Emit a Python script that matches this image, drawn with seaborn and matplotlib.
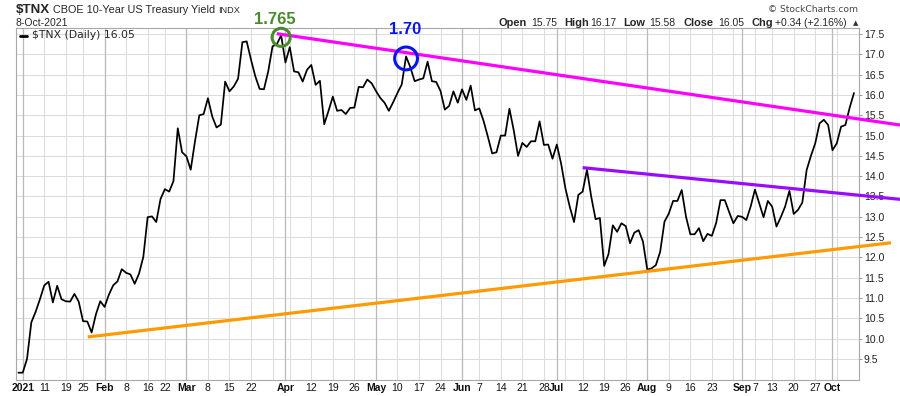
import numpy as np
import pandas as pd
import matplotlib
matplotlib.use("Agg")
import matplotlib.pyplot as plt
from matplotlib.lines import Line2D
import seaborn as sns

# ---------------- data ----------------
first_date = "2020-12-31"
start_date = "2021-01-04"
end_date = "2021-10-08"
holidays = ["2021-01-18", "2021-02-15", "2021-04-02", "2021-05-31",
            "2021-07-05", "2021-09-06"]

# $TNX daily close (yield x10), 31-Dec-2020 .. 8-Oct-2021
tnx_close = [
    9.16,
    9.16, 9.50, 10.40, 10.66, 10.97, 11.31, 11.40, 10.89, 11.30, 10.97,
    10.92, 10.91, 11.10, 10.91, 10.43, 10.42, 10.15, 10.60, 10.92, 10.78,
    11.08, 11.31, 11.41, 11.71, 11.62, 11.58, 11.35, 11.60, 12.01, 12.99,
    13.01, 12.87, 13.44, 13.68, 13.62, 13.88, 15.18, 14.59, 14.49, 14.16,
    14.86, 15.50, 15.53, 15.92, 15.47, 15.20, 15.27, 16.33, 16.09, 16.21,
    16.40, 17.30, 17.32, 16.87, 16.46, 16.15, 16.14, 16.58, 17.20, 17.25,
    17.47, 16.80, 17.18, 16.58, 16.56, 16.33, 16.62, 16.74, 16.25, 16.35,
    15.28, 15.61, 15.96, 15.61, 15.63, 15.53, 15.68, 15.69, 16.20, 16.19,
    16.38, 16.29, 16.10, 15.93, 15.81, 15.61, 15.82, 16.05, 16.26, 16.95,
    16.68, 16.34, 16.38, 16.41, 16.82, 16.34, 16.32, 16.10, 15.64, 15.73,
    16.09, 15.81, 16.14, 15.88, 16.23, 15.62, 15.67, 15.36, 14.97, 14.56,
    14.59, 15.00, 15.00, 15.66, 15.13, 14.50, 14.82, 14.72, 14.86, 14.86,
    15.35, 14.77, 14.78, 14.43, 14.78, 14.31, 13.70, 13.25, 12.87, 13.54,
    13.62, 14.16, 13.49, 12.94, 12.97, 11.79, 12.08, 12.79, 12.63, 12.84,
    12.77, 12.35, 12.61, 12.67, 12.39, 11.70, 11.73, 11.81, 12.14, 12.88,
    13.08, 13.39, 13.39, 13.66, 13.00, 12.57, 12.57, 12.72, 12.40, 12.58,
    12.53, 12.85, 13.41, 13.41, 13.12, 12.84, 13.02, 13.00, 12.92, 13.25,
    13.67, 13.33, 12.99, 13.39, 13.25, 12.76, 12.99, 13.25, 13.64, 13.07,
    13.17, 13.35, 14.15, 14.50, 14.81, 15.30, 15.39, 15.26, 14.64, 14.81,
    15.22, 15.26, 15.69, 16.05,
]

label_dates = ["2021-01-04", "2021-01-11", "2021-01-19", "2021-01-25",
               "2021-02-01", "2021-02-08", "2021-02-16", "2021-02-22",
               "2021-03-01", "2021-03-08", "2021-03-15", "2021-03-22",
               "2021-04-01", "2021-04-12", "2021-04-19", "2021-04-26",
               "2021-05-03", "2021-05-10", "2021-05-17", "2021-05-24",
               "2021-06-01", "2021-06-07", "2021-06-14", "2021-06-21",
               "2021-06-28", "2021-07-01", "2021-07-12", "2021-07-19",
               "2021-07-26", "2021-08-02", "2021-08-09", "2021-08-16",
               "2021-08-23", "2021-09-01", "2021-09-07", "2021-09-13",
               "2021-09-20", "2021-09-27", "2021-10-01"]
label_texts = ["2021", "11", "19", "25", "Feb", "8", "16", "22", "Mar", "8",
               "15", "22", "Apr", "12", "19", "26", "May", "10", "17", "24",
               "Jun", "7", "14", "21", "28", "Jul", "12", "19", "26", "Aug",
               "9", "16", "23", "Sep", "7", "13", "20", "27", "Oct"]
y_ticks = [9.5, 10.0, 10.5, 11.0, 11.5, 12.0, 12.5, 13.0, 13.5, 14.0, 14.5,
           15.0, 15.5, 16.0, 16.5, 17.0, 17.5]

# trend lines (x in trading-day index, 0 = 31-Dec-2020; y in yield x10)
resistance_x = [60.0, 204.7]
resistance_y = [17.51, 15.26]
channel_x = [131.0, 204.7]
channel_y = [14.21, 13.43]
support_x = [16.1, 202.6]
support_y = [10.04, 12.36]

peak_dates = ["2021-03-31", "2021-05-12"]
peak_texts = ["1.765", "1.70"]
peak_colors = ["#4a8a2c", "#0a14f0"]

quote_open, quote_high, quote_low, quote_close = 15.75, 16.17, 15.58, 16.05
quote_chg, quote_pct = 0.34, 2.16

# ---------------- calendar ----------------
bd = pd.bdate_range(start_date, end_date)
bd = bd[~bd.isin(pd.to_datetime(holidays))]
dates = pd.DatetimeIndex([pd.Timestamp(first_date)]).append(bd)
n = min(len(dates), len(tnx_close))
dates = dates[:n]
pos = np.arange(n)
df = pd.DataFrame({"pos": pos, "close": tnx_close[:n], "date": dates})
date_pos = {d: i for i, d in enumerate(dates)}

# week starts and month starts (for grid)
d2021 = df[df["date"] >= pd.Timestamp(start_date)]
week_key = d2021["date"].dt.isocalendar().week
week_starts = d2021.groupby(week_key.values)["pos"].min().values
month_starts = d2021.groupby(d2021["date"].dt.month)["pos"].min().values

# ---------------- figure ----------------
sns.set_style("white")
plt.rcParams["font.family"] = ["Liberation Sans", "DejaVu Sans"]

W, H = 900, 396
fig = plt.figure(figsize=(W / 100, H / 100), dpi=100)
L, R, T, B = 16, 859, 28, 380
ax = fig.add_axes([L / W, 1 - B / H, (R - L) / W, (B - T) / H])

ax.set_xlim(-0.56, 195.16)
ax.set_ylim(8.98, 17.65)

# grid
for yv in y_ticks:
    ax.axhline(yv, color="#dcdcdc", lw=0.75, zorder=0)
for xv in week_starts:
    ax.axvline(xv, color="#dcdcdc", lw=0.75, zorder=0)
for xv in month_starts:
    ax.axvline(xv, color="#b9b9b9", lw=0.9, zorder=0)

sns.lineplot(data=df, x="pos", y="close", color="black", linewidth=1.25,
             ax=ax, legend=False, zorder=3)

# trend lines
ax.plot(resistance_x, resistance_y, color="#ff00ff", lw=2.3,
        solid_capstyle="butt", clip_on=False, zorder=4)
ax.plot(channel_x, channel_y, color="#9a0cff", lw=2.3,
        solid_capstyle="butt", clip_on=False, zorder=4)
ax.plot(support_x, support_y, color="#ff9a00", lw=2.3,
        solid_capstyle="butt", clip_on=False, zorder=4)

# peak circles and annotations
circle_sizes = [170, 270]
text_offsets = [(-4.3, 12.8), (-1.0, 21.0)]
for d, t, c, s, off in zip(peak_dates, peak_texts, peak_colors,
                           circle_sizes, text_offsets):
    p = date_pos[pd.Timestamp(d)]
    v = df["close"].iloc[p] - 0.05
    ax.scatter([p], [v], s=s, facecolors="none", edgecolors=c,
               linewidths=2.2, zorder=5, clip_on=False)
    ax.annotate(t, (p, v), xytext=off, textcoords="offset points",
                ha="center", va="center", color=c, fontsize=12,
                fontweight="bold", annotation_clip=False)

# axes styling
for sp in ax.spines.values():
    sp.set_color("#a8a8a8")
    sp.set_linewidth(0.8)

ax.yaxis.tick_right()
ax.set_yticks(y_ticks, [f"{v:.1f}" for v in y_ticks])
ax.tick_params(axis="y", length=2.5, width=0.7, color="#999999", pad=1,
               labelsize=7.5, labelcolor="#222222")

tick_pos = [date_pos[pd.Timestamp(d)] for d in label_dates]
ax.set_xticks(tick_pos, label_texts)
ax.tick_params(axis="x", length=0, pad=2.5, labelsize=7.5,
               labelcolor="#111111")
for lab in ax.get_xticklabels():
    if not lab.get_text().isdigit() or lab.get_text() == "2021":
        lab.set_fontweight("bold")
ax.set_xlabel("")
ax.set_ylabel("")

# ---------------- header texts ----------------
def fx(px):
    return px / W


def fy(py):
    return 1 - py / H


fig.text(fx(16), fy(13), r"\$TNX", fontsize=9.6, fontweight="bold",
         va="baseline", ha="left")
fig.text(fx(53), fy(13), "CBOE 10-Year US Treasury Yield", fontsize=7.8,
         va="baseline", ha="left")
fig.text(fx(218), fy(13), "INDX", fontsize=6.6, va="baseline", ha="left")
fig.text(fx(16), fy(25.5), "8-Oct-2021", fontsize=7.5, va="baseline",
         ha="left")

fig.text(fx(858), fy(12.5), "\u00a9 StockCharts.com", fontsize=6.6,
         color="#444444", va="baseline", ha="right",
         family=["DejaVu Sans"])

quote_pieces = [
    ("Open", True, 499), (f"{quote_open:.2f}", False, 531),
    ("High", True, 564), (f"{quote_high:.2f}", False, 590),
    ("Low", True, 623), (f"{quote_low:.2f}", False, 649),
    ("Close", True, 684), (f"{quote_close:.2f}", False, 718),
    ("Chg", True, 752), (f"+{quote_chg:.2f} (+{quote_pct:.2f}%)", False, 775),
]
for txt, bold, xs in quote_pieces:
    fig.text(fx(xs), fy(25.5), txt, fontsize=7.9 if bold else 7.5,
             fontweight="bold" if bold else "normal", va="baseline",
             ha="left")
fig.text(fx(853), fy(25), "\u25b2", fontsize=5, color="#333333",
         va="baseline", ha="left", family=["DejaVu Sans"])

# in-chart legend
fig.add_artist(Line2D([fx(20), fx(27)], [fy(35.5), fy(35.5)], color="black",
                      lw=2.0, transform=fig.transFigure))
fig.text(fx(32), fy(35.5), rf"\$TNX (Daily) {tnx_close[-1]:.2f}",
         fontsize=7.8, va="center", ha="left", family=["DejaVu Sans"])

fig.savefig("out.png", dpi=100)
